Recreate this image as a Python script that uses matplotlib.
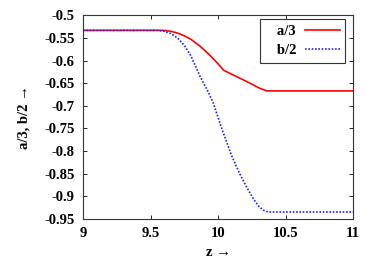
import matplotlib
matplotlib.use("Agg")
import matplotlib.pyplot as plt

z_a = [9.0, 9.6, 9.65, 9.7, 9.75, 9.8, 9.867, 9.9, 9.95, 10.0, 10.04, 10.1, 10.19, 10.25, 10.3, 10.36, 11.0]
a3 = [-0.533, -0.533, -0.535, -0.539, -0.545, -0.553, -0.568, -0.577, -0.591, -0.607, -0.621, -0.630, -0.643, -0.652, -0.660, -0.667, -0.667]
z_b = [9.0, 9.55, 9.6, 9.65, 9.7, 9.75, 9.8, 9.867, 9.92, 9.965, 10.027, 10.1, 10.16, 10.21, 10.26, 10.3, 10.335, 10.37, 11.0]
b2 = [-0.533, -0.533, -0.535, -0.540, -0.550, -0.566, -0.590, -0.635, -0.665, -0.694, -0.750, -0.810, -0.850, -0.879, -0.905, -0.922, -0.931, -0.935, -0.935]
xticks = [9, 9.5, 10, 10.5, 11]
yticks = [-0.5, -0.55, -0.6, -0.65, -0.7, -0.75, -0.8, -0.85, -0.9, -0.95]

plt.rcParams['font.family'] = ['Liberation Serif', 'DejaVu Serif']
plt.rcParams['font.weight'] = 'bold'

fig = plt.figure(figsize=(3.74, 2.62), dpi=100)
ax = fig.add_axes([0.222, 0.165, 0.722, 0.776])
ax.plot(z_a, a3, color='#ff0000', lw=1.2, label='   a/3')
ax.plot(z_b, b2, color='#2020ff', lw=1.2, ls=(0, (1, 1)), label='   b/2')
ax.set_xlim(9, 11)
ax.set_ylim(-0.95, -0.5)
ax.set_xticks(xticks)
ax.set_xticklabels([f"{t:g}" for t in xticks])
ax.set_yticks(yticks)
ax.set_yticklabels([f"{t:g}" for t in yticks])
ax.tick_params(direction='in', top=True, right=True, labelsize=10.5, length=3, width=0.6, pad=6)
for lab in ax.get_xticklabels() + ax.get_yticklabels():
    lab.set_fontweight('bold')
for s in ax.spines.values():
    s.set_linewidth(0.8)
    s.set_color('#333333')
ax.set_xlabel('z \u2192', fontsize=10.5, fontweight='bold', labelpad=4)
ax.set_ylabel('a/3, b/2 \u2192', fontsize=10.5, fontweight='bold', labelpad=10)
leg = ax.legend(loc='upper right', markerfirst=False, fancybox=False, framealpha=1,
                edgecolor='#333333', fontsize=10.5, handlelength=2.4, borderpad=0.35,
                labelspacing=0.45, handletextpad=0.6, borderaxespad=0,
                bbox_to_anchor=(0.97, 0.981))
leg.get_frame().set_linewidth(0.8)
for t in leg.get_texts():
    t.set_fontweight('bold')
fig.savefig('out.png', dpi=100)
